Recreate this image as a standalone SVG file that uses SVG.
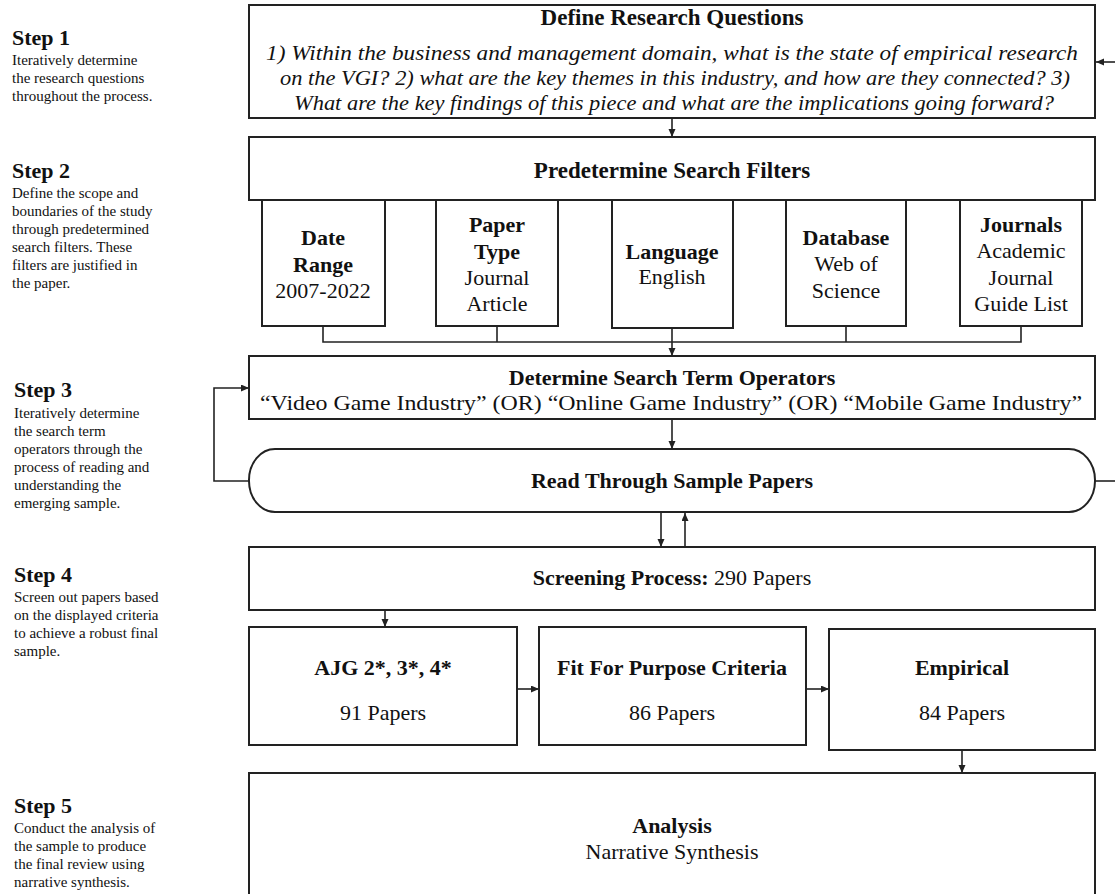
<svg xmlns="http://www.w3.org/2000/svg" width="1115" height="894" viewBox="0 0 1115 894">
<style>
text{font-family:"Liberation Serif","Times New Roman",serif;fill:#111}
.box{fill:#fff;stroke:#222;stroke-width:2}
.t{font-size:22px;font-weight:bold;text-anchor:middle}
.r{font-size:22px;text-anchor:middle}
.it{font-size:22px;font-style:italic;text-anchor:middle}
.sl{font-size:22px;font-weight:bold}
.sd{font-size:15px}
.c{fill:none;stroke:#222;stroke-width:1.6}
</style>
<defs>
<marker id="ah" markerUnits="userSpaceOnUse" markerWidth="9" markerHeight="8" refX="8" refY="3.5" orient="auto">
<path d="M0,0 L8,3.5 L0,7 z" fill="#222"/>
</marker>
</defs>
<rect width="1115" height="894" fill="#fff"/>

<g id="steps">
<text class="sl" x="12" y="45">Step 1</text>
<text class="sd" x="12" y="65">Iteratively determine</text>
<text class="sd" x="12" y="83">the research questions</text>
<text class="sd" x="12" y="101">throughout the process.</text>

<text class="sl" x="12" y="178">Step 2</text>
<text class="sd" x="12" y="198">Define the scope and</text>
<text class="sd" x="12" y="216">boundaries of the study</text>
<text class="sd" x="12" y="234">through predetermined</text>
<text class="sd" x="12" y="252">search filters. These</text>
<text class="sd" x="12" y="270">filters are justified in</text>
<text class="sd" x="12" y="288">the paper.</text>

<text class="sl" x="14" y="397">Step 3</text>
<text class="sd" x="14" y="418">Iteratively determine</text>
<text class="sd" x="14" y="436">the search term</text>
<text class="sd" x="14" y="454">operators through the</text>
<text class="sd" x="14" y="472">process of reading and</text>
<text class="sd" x="14" y="490">understanding the</text>
<text class="sd" x="14" y="508">emerging sample.</text>

<text class="sl" x="14" y="582">Step 4</text>
<text class="sd" x="14" y="602">Screen out papers based</text>
<text class="sd" x="14" y="620">on the displayed criteria</text>
<text class="sd" x="14" y="638">to achieve a robust final</text>
<text class="sd" x="14" y="656">sample.</text>

<text class="sl" x="14" y="813">Step 5</text>
<text class="sd" x="14" y="833">Conduct the analysis of</text>
<text class="sd" x="14" y="851">the sample to produce</text>
<text class="sd" x="14" y="869">the final review using</text>
<text class="sd" x="14" y="887">narrative synthesis.</text>
</g>

<g id="connectors">
<path class="c" d="M672,118 V137" marker-end="url(#ah)"/>
<path class="c" d="M1115,62 H1096" marker-end="url(#ah)"/>
<path class="c" d="M323,326 V342 H1021 V326 M497,326 V342 M846,326 V342"/>
<path class="c" d="M672,328 V356" marker-end="url(#ah)"/>
<path class="c" d="M672,419 V449" marker-end="url(#ah)"/>
<path class="c" d="M249,481 H214 V388 H249" marker-end="url(#ah)"/>
<path class="c" d="M1095,481 H1115"/>
<path class="c" d="M661,513 V547" marker-end="url(#ah)"/>
<path class="c" d="M685,547 V513" marker-end="url(#ah)"/>
<path class="c" d="M385,610 V627" marker-end="url(#ah)"/>
<path class="c" d="M517,689 H539" marker-end="url(#ah)"/>
<path class="c" d="M806,689 H829" marker-end="url(#ah)"/>
<path class="c" d="M962,750 V773" marker-end="url(#ah)"/>
</g>

<g id="research-questions">
<rect class="box" x="249" y="5" width="846" height="113"/>
<text class="t" x="672" y="25" style="font-size:23px">Define Research Questions</text>
<text class="it" x="672" y="60" textLength="812" lengthAdjust="spacingAndGlyphs">1) Within the business and management domain, what is the state of empirical research</text>
<text class="it" x="675" y="85" textLength="790" lengthAdjust="spacingAndGlyphs">on the VGI? 2) what are the key themes in this industry, and how are they connected? 3)</text>
<text class="it" x="674" y="110" textLength="760" lengthAdjust="spacingAndGlyphs">What are the key findings of this piece and what are the implications going forward?</text>
</g>

<g id="search-filters">
<rect class="box" x="249" y="137" width="846" height="63"/>
<text class="t" x="672" y="178" style="font-size:23px">Predetermine Search Filters</text>
</g>

<g id="date-range">
<rect class="box" x="262" y="200" width="123" height="126"/>
<text class="t" x="323" y="245">Date</text>
<text class="t" x="323" y="272">Range</text>
<text class="r" x="323" y="298">2007-2022</text>
</g>
<g id="paper-type">
<rect class="box" x="436" y="200" width="122" height="126"/>
<text class="t" x="497" y="232">Paper</text>
<text class="t" x="497" y="259">Type</text>
<text class="r" x="497" y="285">Journal</text>
<text class="r" x="497" y="311">Article</text>
</g>
<g id="language">
<rect class="box" x="612" y="200" width="121" height="128"/>
<text class="t" x="672" y="259">Language</text>
<text class="r" x="672" y="284">English</text>
</g>
<g id="database">
<rect class="box" x="786" y="200" width="120" height="126"/>
<text class="t" x="846" y="245">Database</text>
<text class="r" x="846" y="271">Web of</text>
<text class="r" x="846" y="298">Science</text>
</g>
<g id="journals">
<rect class="box" x="960" y="200" width="122" height="126"/>
<text class="t" x="1021" y="232">Journals</text>
<text class="r" x="1021" y="258">Academic</text>
<text class="r" x="1021" y="285">Journal</text>
<text class="r" x="1021" y="311">Guide List</text>
</g>

<g id="search-terms">
<rect class="box" x="249" y="356" width="846" height="63"/>
<text class="t" x="672" y="385">Determine Search Term Operators</text>
<text class="r" x="671" y="410" textLength="822" lengthAdjust="spacingAndGlyphs">“Video Game Industry” (OR) “Online Game Industry” (OR) “Mobile Game Industry”</text>
</g>

<g id="read-papers">
<rect class="box" x="249" y="449" width="846" height="63" rx="26" ry="31"/>
<text class="t" x="672" y="488">Read Through Sample Papers</text>
</g>

<g id="screening">
<rect class="box" x="249" y="547" width="846" height="63"/>
<text class="r" x="672" y="585"><tspan font-weight="bold">Screening Process:</tspan> 290 Papers</text>
</g>

<g id="ajg">
<rect class="box" x="249" y="627" width="268" height="118"/>
<text class="t" x="383" y="675">AJG 2*, 3*, 4*</text>
<text class="r" x="383" y="720">91 Papers</text>
</g>
<g id="fit">
<rect class="box" x="539" y="627" width="267" height="118"/>
<text class="t" x="672" y="675">Fit For Purpose Criteria</text>
<text class="r" x="672" y="720">86 Papers</text>
</g>
<g id="empirical">
<rect class="box" x="829" y="629" width="266" height="121"/>
<text class="t" x="962" y="675">Empirical</text>
<text class="r" x="962" y="720">84 Papers</text>
</g>

<g id="analysis">
<rect class="box" x="249" y="773" width="846" height="140"/>
<text class="t" x="672" y="833">Analysis</text>
<text class="r" x="672" y="859">Narrative Synthesis</text>
</g>
</svg>
